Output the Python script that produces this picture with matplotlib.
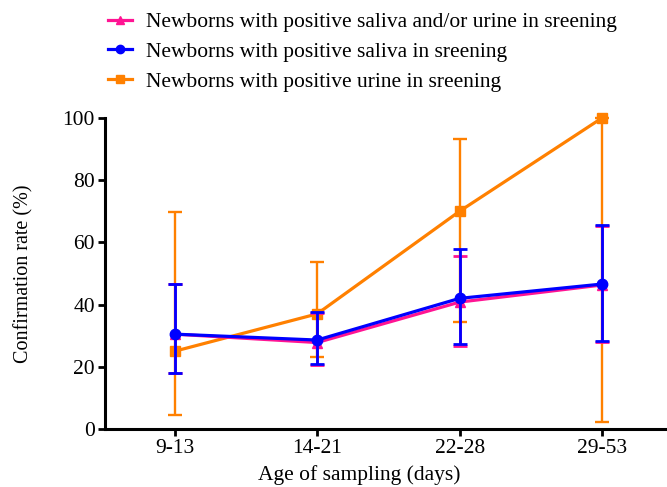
import matplotlib
matplotlib.use("Agg")
import matplotlib.pyplot as plt
from matplotlib.lines import Line2D

plt.rcParams['font.family'] = ['Liberation Serif', 'DejaVu Serif']

ages = ['9-13', '14-21', '22-28', '29-53']

# confirmation rates (%) and error bar limits
any_rate = [30.5, 27.8, 40.8, 46.3]
any_low = [18.1, 20.6, 26.8, 28.0]
any_high = [46.5, 37.4, 55.6, 65.3]

saliva_rate = [30.5, 28.6, 42.0, 46.6]
saliva_low = [18.1, 20.8, 27.2, 28.2]
saliva_high = [46.5, 37.7, 57.8, 65.5]

urine_rate = [25.0, 37.0, 70.0, 100.0]
urine_low = [4.4, 23.0, 34.5, 2.3]
urine_high = [69.8, 53.7, 93.2, 100.0]

labels = ['Newborns with positive saliva and/or urine in sreening',
          'Newborns with positive saliva in sreening',
          'Newborns with positive urine in sreening']

fig = plt.figure(figsize=(6.67, 4.87), dpi=100)
ax = fig.add_axes([0.157, 0.119, 0.842, 0.639])

x = list(range(len(ages)))


def draw(rate, low, high, color, marker, z, elw):
    err = [[r - l for r, l in zip(rate, low)], [h - r for r, h in zip(rate, high)]]
    ax.errorbar(x, rate, yerr=err, color=color, marker=marker, markersize=7.5,
                lw=2.3, elinewidth=elw, capsize=5, capthick=elw,
                zorder=z, clip_on=False)
    return Line2D([], [], color=color, marker=marker, markersize=6, lw=2.3)


h3 = draw(urine_rate, urine_low, urine_high, '#FF8000', 's', 3, 1.7)
h1 = draw(any_rate, any_low, any_high, '#FF1493', '^', 4, 2.0)
h2 = draw(saliva_rate, saliva_low, saliva_high, '#0000FF', 'o', 5, 2.0)

ax.set_xlim(-0.49, 3.45)
ax.set_ylim(0, 100)
ax.set_xticks(x)
ax.set_xticklabels(ages)
ax.set_yticks([0, 20, 40, 60, 80, 100])
ax.tick_params(labelsize=15.5, width=2, length=5, pad=2)
for s in ['top', 'right']:
    ax.spines[s].set_visible(False)
for s in ['left', 'bottom']:
    ax.spines[s].set_linewidth(2.2)

ax.set_xlabel('Age of sampling (days)', fontsize=15.5)
ax.xaxis.set_label_coords(0.454, -0.115)
ax.set_ylabel('Confirmation rate (%)', fontsize=14.5)
ax.yaxis.set_label_coords(-0.126, 0.5)

fig.legend(handles=[h1, h2, h3], labels=labels, loc='upper left',
           bbox_to_anchor=(0.133, 1.015), frameon=False, fontsize=15.5,
           handlelength=1.1, handletextpad=0.65, labelspacing=0.45)

fig.savefig('out.png', dpi=100)
